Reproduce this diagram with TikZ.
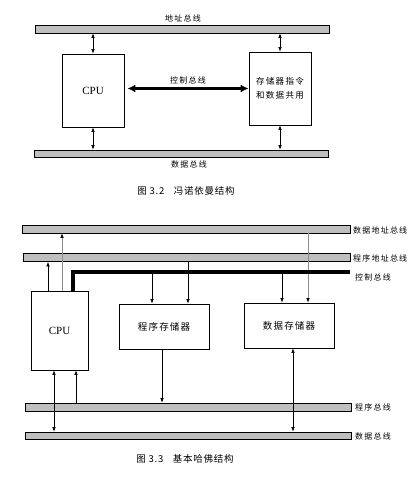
\documentclass[tikz,border=0pt]{standalone}
\usepackage{fontspec}
\setmainfont{Liberation Serif}
\newfontfamily\cjk{Noto Sans CJK SC}
\usetikzlibrary{arrows.meta}

\begin{document}
\begin{tikzpicture}[x=1pt,y=-1pt]

\def\barlen{294pt}
\def\barlenb{326pt}
\def\cpuw{62pt}
\def\cpuh{73pt}

\tikzset{bus/.style = {draw, fill=black!25, minimum height=8pt, inner sep=0pt, line width=0.6pt},
  unit/.style = {draw, line width=0.7pt, inner sep=0pt},
  lbl/.style = {font=\cjk\fontsize{8}{9}\selectfont\addfontfeature{LetterSpace=15}, inner sep=0pt},
  figcap/.style = {font=\cjk\fontsize{9.5}{11}\selectfont\addfontfeature{LetterSpace=8}, inner sep=0pt},
  link/.style = {line width=0.6pt, -{Latex[length=4.5pt,width=3.5pt]}},
  both/.style = {line width=0.6pt, {Latex[length=4.5pt,width=3.5pt]}-{Latex[length=4.5pt,width=3.5pt]}},
  grey link/.style = {line width=0.6pt, black!45, -{Latex[length=4.5pt,width=3.5pt,black]}}}

\useasboundingbox (0,0) rectangle (414,489);

\node[bus, minimum width=\barlen] (abusA) at (182,29) {};
\node[lbl] (abusAl) at (183,18) {地址总线};
\node[unit, minimum width=\cpuw, minimum height=\cpuh, font=\fontsize{11}{12}\selectfont] (cpuA) at (93,90.5) {CPU};
\node[unit, minimum width=\cpuw, minimum height=\cpuh, align=center, font=\cjk\fontsize{8.5}{13.5}\selectfont\addfontfeature{LetterSpace=15}] (memA) at (280,88.5) {存储器指令\\和数据共用};
\node[bus, minimum width=\barlen, minimum height=7pt] (dbusA) at (181,153.5) {};
\node[lbl] (dbusAl) at (189,164) {数据总线};

\draw[line width=2.6pt, {Latex[length=8pt,width=8pt]}-{Latex[length=8pt,width=8pt]}] ([xshift=3pt]cpuA.east |- memA.west) -- (memA.west);
\node[lbl] (ctrlAl) at (188,80) {控制总线};

\draw[both] (abusA.south -| cpuA.north) -- (cpuA.north);
\draw[both] (abusA.south -| memA.north) -- (memA.north);
\draw[both] (cpuA.south) -- (dbusA.north -| cpuA.south);
\draw[both] (memA.south) -- (dbusA.north -| memA.south);

\node[figcap] (capA) at (186,191) {图 3.2\quad 冯诺依曼结构};


\node[bus, minimum width=328pt] (dabusB) at (186,229) {};
\node[bus, minimum width=327pt] (pabusB) at (186.5,257.5) {};
\coordinate (ctrlB) at (350,272);
\node[unit, minimum width=57pt, minimum height=79pt, font=\fontsize{11}{12}\selectfont] (cpuB) at (59.5,330.5) {CPU};
\node[unit, minimum width=90pt, minimum height=45pt, font=\cjk\fontsize{9.5}{11}\selectfont\addfontfeature{LetterSpace=12}] (pmemB) at (164,326.5) {程序存储器};
\node[unit, minimum width=90pt, minimum height=45pt, font=\cjk\fontsize{9.5}{11}\selectfont\addfontfeature{LetterSpace=12}] (dmemB) at (289,325.5) {数据存储器};
\node[bus, minimum width=\barlenb] (pbusB) at (188,407) {};
\node[bus, minimum width=\barlenb, minimum height=7pt] (dbusB) at (188,435.5) {};

\node[lbl, anchor=west] (dabusBl) at (353,230) {数据地址总线};
\node[lbl, anchor=west] (pabusBl) at (353,258) {程序地址总线};
\node[lbl, anchor=west] (ctrlBl) at (355,277) {控制总线};
\node[lbl, anchor=west] (pbusBl) at (355,407) {程序总线};
\node[lbl, anchor=west] (dbusBl) at (355,436) {数据总线};

\draw[link] ([xshift=-11.5pt]cpuB.north) -- ([xshift=-11.5pt]cpuB.north |- pabusB.south);
\draw[grey link] ([xshift=2.5pt]cpuB.north) -- ([xshift=2.5pt]cpuB.north |- dabusB.south);

\draw[grey link] ([xshift=19pt]dmemB.north |- dabusB.south) -- ([xshift=19pt]dmemB.north);
\draw[line width=3.5pt] (ctrlB) -| ([xshift=13.5pt]cpuB.north);

\draw[link] ([xshift=-12pt]pmemB.north |- ctrlB) -- ([xshift=-12pt]pmemB.north);
\draw[link] ([xshift=24pt]pmemB.north |- pabusB.south) -- ([xshift=24pt]pmemB.north);
\draw[link] ([xshift=-7pt]dmemB.north |- ctrlB) -- ([xshift=-7pt]dmemB.north);

\draw[link] ([xshift=-2pt]pmemB.south) -- ([xshift=-2pt]pmemB.south |- pbusB.north);
\draw[both] ([xshift=4pt]dmemB.south) -- ([xshift=4pt]dmemB.south |- dbusB.north);
\draw[both] ([xshift=-5.5pt]cpuB.south) -- ([xshift=-5.5pt]cpuB.south |- dbusB.north);
\draw[link] ([xshift=16.5pt]cpuB.south |- pbusB.north) -- ([xshift=16.5pt]cpuB.south);

\node[figcap] (capB) at (185,459) {图 3.3\quad 基本哈佛结构};

\end{tikzpicture}
\end{document}
